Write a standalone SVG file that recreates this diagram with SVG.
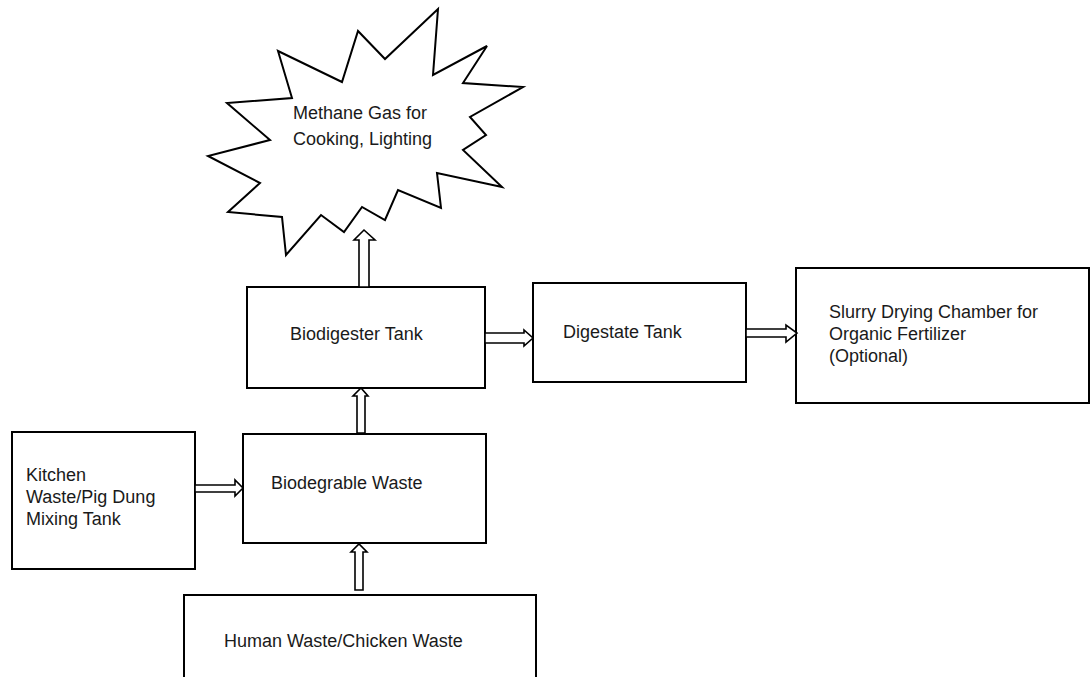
<svg xmlns="http://www.w3.org/2000/svg" width="1091" height="677" viewBox="0 0 1091 677">
<style>
.box{fill:#fff;stroke:#000;stroke-width:2}
.burst{fill:#fff;stroke:#000;stroke-width:2;stroke-linejoin:miter}
.arr{fill:#fff;stroke:#000;stroke-width:1.6;stroke-linejoin:miter}
text{font-family:"Liberation Sans",Arial,sans-serif;font-size:18px;fill:#1a1a1a}
</style>
<rect width="1091" height="677" fill="#fff"/>
<g id="methane">
<polygon class="burst" points="438,9 433,75 487,46 463,83 523,87 470,117 486,135 463,150 502,187 437,173 441,208 398,190 385,220 362,207 344,232 321,215 286,255 282,217 228,212 260,183 208,156 270,140 227,103 292,98 278,51 342,82 358,31 385,59"/>
<text x="293" y="119">Methane Gas for</text>
<text x="293" y="145">Cooking, Lighting</text>
</g>
<g id="biodigester">
<rect class="box" x="247" y="287" width="238" height="101"/>
<text x="290" y="340">Biodigester Tank</text>
</g>
<g id="digestate">
<rect class="box" x="533" y="283" width="213" height="99"/>
<text x="563" y="338">Digestate Tank</text>
</g>
<g id="slurry">
<rect class="box" x="796" y="268" width="293" height="135"/>
<text x="829" y="318">Slurry Drying Chamber for</text>
<text x="829" y="340">Organic Fertilizer</text>
<text x="829" y="362">(Optional)</text>
</g>
<g id="kitchen">
<rect class="box" x="12" y="432" width="183" height="137"/>
<text x="26" y="481">Kitchen</text>
<text x="26" y="503">Waste/Pig Dung</text>
<text x="26" y="525">Mixing Tank</text>
</g>
<g id="biodegradable">
<rect class="box" x="243" y="434" width="243" height="109"/>
<text x="271" y="489">Biodegrable Waste</text>
</g>
<g id="human">
<rect class="box" x="184" y="595" width="352" height="90"/>
<text x="224" y="647">Human Waste/Chicken Waste</text>
</g>
<g id="connectors">
<polygon class="arr" points="359,287 359,240 354,240 364,230 375,240 369,240 369,287"/>
<polygon class="arr" points="485,333 524,333 524,330 533,338 524,346 524,343 485,343"/>
<polygon class="arr" points="746,329 786,329 786,325 797,333 786,342 786,337 746,337"/>
<polygon class="arr" points="195,485 235,485 235,480 243,488 235,496 235,492 195,492"/>
<polygon class="arr" points="357,433 357,396 353,396 361,388 368,396 365,396 365,433"/>
<polygon class="arr" points="355,590 355,552 351,552 359,544 367,552 363,552 363,590"/>
</g>
</svg>
